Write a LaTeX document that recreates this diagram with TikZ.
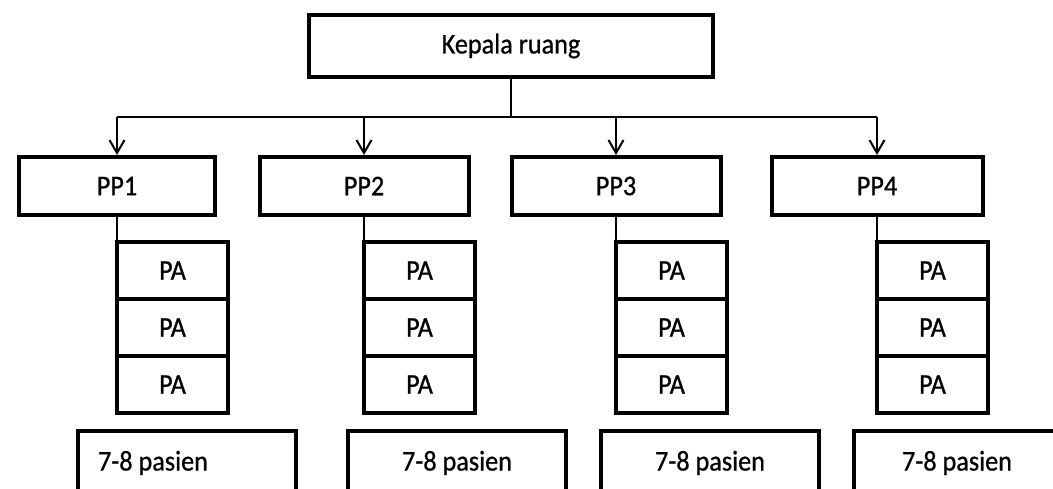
\documentclass[tikz,border=0pt]{standalone}
\usepackage{fontspec}
\setmainfont{Carlito}
\newfontfamily\boxfont[FakeStretch=0.92, FakeBold=0.8]{Carlito}
\usetikzlibrary{positioning,arrows.meta}
\tikzset{
  box/.style={draw, line width=4pt, inner sep=0pt, font=\boxfont\fontsize{28.5}{32}\selectfont},
  ppbox/.style={box, minimum width=209pt, minimum height=58pt},
  pabox/.style={box, outer sep=0pt, minimum width=111pt, minimum height=57pt},
  pasienbox/.style={box, minimum width=218pt, minimum height=64pt},
  link/.style={line width=2pt},
}
\begin{document}
\begin{tikzpicture}[x=1pt, y=-1pt, node distance=0pt]
  \useasboundingbox (0,0) rectangle (1053,488);
  \clip (0,0) rectangle (1053,488);
  \node[box, minimum width=404pt, minimum height=62pt] (kepala) at (511,46) {Kepala ruang};
  \node[ppbox, minimum width=196pt] (pp1) at (117,186) {PP1};
  \node[ppbox] (pp2) at (364,186) {PP2};
  \node[ppbox] (pp3) at (616,186) {PP3};
  \node[ppbox, minimum width=211pt] (pp4) at (877,186) {PP4};
  \coordinate (bus) at (511,117);
  \draw[link] (kepala.south) -- (bus);
  \draw[link] (bus -| pp1.north) -- (bus -| pp4.north);
  \foreach \i in {1,...,4}
    \draw[link, -{Straight Barb[length=13pt, width=15pt]}] (bus -| pp\i.north) -- (pp\i.north);
  % PA stacks
  \foreach \i in {1,...,4} {
    \node[pabox, anchor=north west] (pa\i-1) at ([yshift=-25pt]pp\i.south) {PA};
    \node[pabox, below=of pa\i-1] (pa\i-2) {PA};
    \node[pabox, below=of pa\i-2] (pa\i-3) {PA};
    \draw[link] (pp\i.south) -- (pa\i-1.north west);
  }
  \node[pasienbox] (pasien1) at (187,463) {\makebox[178pt][l]{7-8 pasien}};
  \node[pasienbox] (pasien2) at (457,463) {7-8 pasien};
  \node[pasienbox] (pasien3) at (710,463) {7-8 pasien};
  \node[pasienbox, minimum width=206pt] (pasien4) at (957,463) {7-8 pasien};
\end{tikzpicture}
\end{document}
